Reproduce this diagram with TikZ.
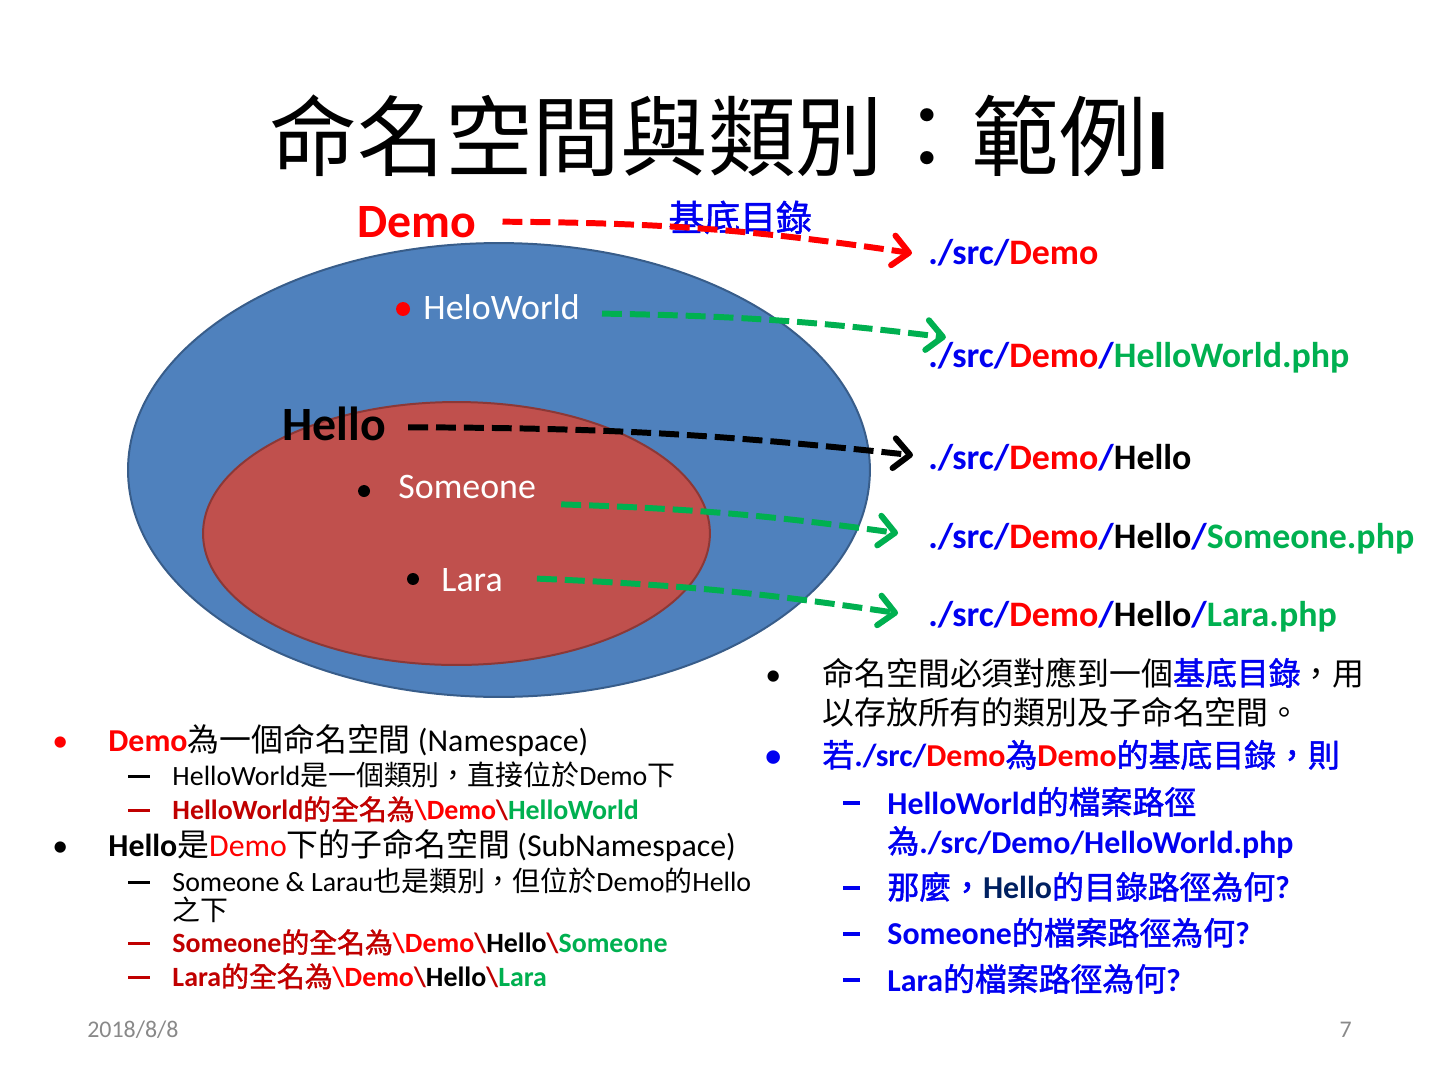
\documentclass[tikz,border=0pt]{standalone}
\usepackage{fontspec}
\setmainfont{Carlito}
\newfontfamily\cjk[BoldFont={Noto Sans CJK TC}, BoldFeatures={FakeBold=1.6}]{Noto Sans CJK TC}
\newcommand{\zh}[1]{{\cjk #1}}
\usetikzlibrary{arrows.meta}

\definecolor{nsblue}{HTML}{4F81BD}
\definecolor{nsblueline}{HTML}{385D8A}
\definecolor{nsred}{HTML}{C0504D}
\definecolor{nsredline}{HTML}{8C3836}
\definecolor{txtred}{HTML}{FF0000}
\definecolor{txtdark}{HTML}{C00000}
\definecolor{txtgreen}{HTML}{00B050}
\definecolor{txtblue}{HTML}{0000F0}
\definecolor{txtnavy}{HTML}{002060}
\definecolor{footgray}{HTML}{898989}

\newcommand{\sizeTitle}{\fontsize{44}{50}\selectfont}
\newcommand{\sizeBig}{\fontsize{24}{28}\selectfont}
\newcommand{\sizePath}{\fontsize{18}{21}\selectfont}
\newcommand{\sizeOne}{\fontsize{16}{19}\selectfont}
\newcommand{\sizeTwo}{\fontsize{14}{17}\selectfont}
\newcommand{\sizeTwoR}{\fontsize{16}{19}\selectfont}
\newcommand{\sizeFoot}{\fontsize{12}{14}\selectfont}
\newcommand{\src}{{\color{txtblue}./src/}}
% sub-level dash marks
\newcommand{\dashL}{\makebox[0.306in][l]{\rule[0.3em]{11pt}{1.3pt}}}
\newcommand{\dashR}{\makebox[0.306in][l]{\rule[0.28em]{8.5pt}{2pt}}}

\tikzset{
  txt/.style={anchor=base west, inner sep=0pt},
  dasharrow/.style={line width=3pt, dash pattern=on 10pt off 4pt,
    -{Straight Barb[round, length=8pt, width=15pt]}},
  dot/.style={circle, inner sep=0pt, minimum size=#1},
}

\begin{document}
\begin{tikzpicture}[x=1in, y=1in]
        \useasboundingbox (0, 0) rectangle (10, 7.5);
        \node[anchor=base, inner sep=0pt, font=\sizeTitle] (title) at (5.0, 6.326) {\zh{命名空間與類別：範例}\textbf{I}};

        % namespaces
        \draw[fill=nsblue, draw=nsblueline, line width=1pt] (3.465, 4.236) ellipse [x radius=2.576in, y radius=1.576in];
        \draw[fill=nsred, draw=nsredline, line width=1pt] (3.170, 3.795) ellipse [x radius=1.760in, y radius=0.913in];

        \node[dot=7pt, fill=txtred] (d1) at (2.799, 5.354) {};
        \node[dot=6pt, fill=black] (d2) at (2.528, 4.090) {};
        \node[dot=6pt, fill=black] (d3) at (2.868, 3.479) {};

        \node[txt, font=\sizeBig\bfseries, text=txtred] (demo) at (2.479, 5.854) {Demo};
        \node[txt, font=\sizePath\bfseries, text=txtblue] (base) at (4.639, 5.896) {\zh{基底目錄}};
        \node[txt, font=\sizePath, text=white] (hw) at (2.938, 5.278) {HeloWorld};
        \node[txt, font=\sizeBig\bfseries] (hello) at (1.958, 4.438) {Hello};
        \node[txt, font=\sizePath, text=white] (someone) at (2.764, 4.035) {Someone};
        \node[txt, font=\sizePath, text=white] (lara) at (3.063, 3.389) {Lara};

        % paths
        \node[txt, font=\sizePath\bfseries] (p1) at (6.444, 5.660) {\src{\color{txtred}Demo}};
        \node[txt, font=\sizePath\bfseries] (p2) at (6.444, 4.951) {\src{\color{txtred}Demo}{\color{txtblue}/}{\color{txtgreen}HelloWorld.php}};
        \node[txt, font=\sizePath\bfseries] (p3) at (6.444, 4.243) {\src{\color{txtred}Demo}{\color{txtblue}/}Hello};
        \node[txt, font=\sizePath\bfseries] (p4) at (6.444, 3.688) {\src{\color{txtred}Demo}{\color{txtblue}/}Hello{\color{txtblue}/}{\color{txtgreen}Someone.php}};
        \node[txt, font=\sizePath\bfseries] (p5) at (6.444, 3.146) {\src{\color{txtred}Demo}{\color{txtblue}/}Hello{\color{txtblue}/}{\color{txtgreen}Lara.php}};

        \draw[dasharrow, txtred] ([xshift=13pt]demo.east) to[bend left=4] ([xshift=-8pt]p1.west);
        \draw[dasharrow, txtgreen] ([xshift=11pt, yshift=-3pt]hw.east) to[bend left=3] ([xshift=9pt, yshift=10pt]p2.west);
        \draw[dasharrow, black] ([xshift=11pt, yshift=-1.5pt]hello.east) to[bend left=3] ([xshift=-7.5pt, yshift=1pt]p3.west);
        \draw[dasharrow, txtgreen] ([xshift=12.5pt, yshift=-8.5pt]someone.east) to[bend left=3] ([xshift=-15pt, yshift=3pt]p4.west);
        \draw[dasharrow, txtgreen] ([xshift=17pt, yshift=1pt]lara.east) to[bend left=3] ([xshift=-15pt, yshift=2pt]p5.west);

        % left notes
        \node[txt, font=\sizeOne] (a1) at (0.361, 2.278) {\makebox[0.389in][l]{\color{txtred}•}{\bfseries\color{txtred}Demo}\zh{為一個命名空間} (Namespace)};
        \node[txt, font=\sizeTwo] (a2) at (0.889, 2.042) {\dashL HelloWorld\zh{是一個類別，直接位於}Demo\zh{下}};
        \node[txt, font=\sizeTwo\bfseries, text=txtdark] (a3) at (0.889, 1.806) {\dashL HelloWorld\zh{的全名為}{\color{txtred}\textbackslash Demo}\textbackslash{\color{txtgreen}HelloWorld}};
        \node[txt, font=\sizeOne] (a4) at (0.361, 1.549) {\makebox[0.389in][l]{•}{\bfseries Hello}\zh{是}{\color{txtred}Demo}\zh{下的子命名空間} (SubNamespace)};
        \node[txt, font=\sizeTwo] (a5) at (0.889, 1.306) {\dashL Someone \& Larau\zh{也是類別，但位於}Demo\zh{的}Hello};
        \node[txt, font=\sizeTwo] (a6) at (1.194, 1.108) {\zh{之下}};
        \node[txt, font=\sizeTwo\bfseries, text=txtdark] (a7) at (0.889, 0.882) {\dashL Someone\zh{的全名為}{\color{txtred}\textbackslash Demo}\textbackslash{\color{black}Hello}\textbackslash{\color{txtgreen}Someone}};
        \node[txt, font=\sizeTwo\bfseries, text=txtdark] (a8) at (0.889, 0.646) {\dashL Lara\zh{的全名為}{\color{txtred}\textbackslash Demo}\textbackslash{\color{black}Hello}\textbackslash{\color{txtgreen}Lara}};

        % right notes
        \node[txt, font=\sizeOne] (b1) at (5.313, 2.743) {\makebox[0.396in][l]{•}\zh{命名空間必須對應到一個}{\bfseries\color{txtblue}\zh{基底目錄}}\zh{，用}};
        \node[txt, font=\sizeOne] (b2) at (5.708, 2.472) {\zh{以存放所有的類別及子命名空間。}};
        \node[txt, font=\sizeOne\bfseries, text=txtblue] (b3) at (5.313, 2.174) {\makebox[0.396in][l]{•}\zh{若}./src/{\color{txtred}Demo}\zh{為}{\color{txtred}Demo}\zh{的基底目錄，則}};
        \node[txt, font=\sizeTwoR\bfseries, text=txtblue] (b4) at (5.854, 1.847) {\dashR HelloWorld\zh{的檔案路徑}};
        \node[txt, font=\sizeTwoR\bfseries, text=txtblue] (b5) at (6.160, 1.576) {\zh{為}./src/Demo/HelloWorld.php};
        \node[txt, font=\sizeTwoR\bfseries, text=txtblue] (b6) at (5.854, 1.257) {\dashR\zh{那麼，}{\color{txtnavy}Hello}\zh{的目錄路徑為何}?};
        \node[txt, font=\sizeTwoR\bfseries, text=txtblue] (b7) at (5.854, 0.938) {\dashR Someone\zh{的檔案路徑為何}?};
        \node[txt, font=\sizeTwoR\bfseries, text=txtblue] (b8) at (5.854, 0.618) {\dashR Lara\zh{的檔案路徑為何}?};

        \node[txt, font=\sizeFoot, text=footgray] (date) at (0.604, 0.292) {2018/8/8};
        \node[anchor=base east, inner sep=0pt, font=\sizeFoot, text=footgray] (page) at (9.389, 0.292) {7};
    \end{tikzpicture}
\end{document}
